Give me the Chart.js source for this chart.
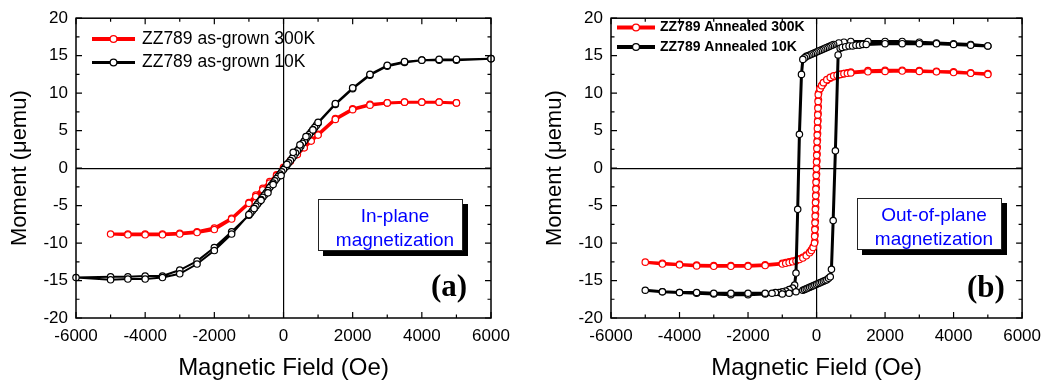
<!DOCTYPE html>
<html>
<head>
<meta charset="utf-8">
<script src="https://cdn.jsdelivr.net/npm/chart.js@4.4.0/dist/chart.umd.min.js"></script>
<style>
  body { margin: 0; background: #fff; }
  #wrap { position: relative; width: 1049px; height: 387px; overflow: hidden; }
  canvas { position: absolute; top: 0; }
  .note {
    position: absolute; box-sizing: border-box; width: 145px; height: 52px;
    border: 1px solid #222; background: #fff; box-shadow: 5px 5px 0 #000;
    color: #0000ff; font: 19px "Liberation Sans", Arial, sans-serif; line-height: 24px;
    text-align: center; padding: 4px 0 0 9px;
  }
  .tag { position: absolute; font: bold 31px "Liberation Serif", "Times New Roman", serif; line-height: 31px; }
</style>
</head>
<body>
<div id="wrap">
  <canvas id="chartA" width="520" height="387" style="left:0"></canvas>
  <canvas id="chartB" width="529" height="387" style="left:520px"></canvas>
  <div class="note" style="left:318px;top:199px">In-plane<br>magnetization</div>
  <div class="note" style="left:857px;top:198px">Out-of-plane<br>magnetization</div>
  <div class="tag" style="left:431px;top:270px">(a)</div>
  <div class="tag" style="left:967px;top:271px">(b)</div>
</div>
<script>
// tick labels shared by both panels
const xTicks = [-6000, -4000, -2000, 0, 2000, 4000, 6000];
const yTicks = [-20, -15, -10, -5, 0, 5, 10, 15, 20];

// (a) as-grown, 300K : down from +5000 then back up
const fieldA300 = [5000, 4500, 4000, 3500, 3000, 2500, 2000, 1500, 1000, 800, 600, 400, 200, 0, -200, -400, -600, -800, -1000,
  -1500, -2000, -2500, -3000, -3500, -4000, -4500, -5000,
  -4500, -4000, -3500, -3000, -2500, -2000, -1500, -1000, -800, -600, -400, -200, 0, 200, 400, 600, 800, 1000,
  1500, 2000, 2500, 3000, 3500, 4000, 4500, 5000];
const momentA300 = [8.7, 8.8, 8.8, 8.8, 8.7, 8.5, 7.9, 6.6, 4.5, 3.7, 2.8, 1.9, 1.0, 0.1, -0.9, -1.8, -2.7, -3.6, -4.6,
  -6.7, -8.0, -8.5, -8.7, -8.8, -8.8, -8.8, -8.8,
  -8.9, -8.9, -8.9, -8.8, -8.6, -8.2, -6.8, -4.7, -3.8, -2.9, -2.0, -1.0, -0.1, 0.9, 1.8, 2.7, 3.6, 4.4,
  6.5, 7.8, 8.4, 8.7, 8.8, 8.8, 8.8, 8.7];

// (a) as-grown, 10K
const fieldA10 = [6000, 5000, 4500, 4000, 3500, 3000, 2500, 2000, 1500,
  1000, 950, 900, 850, 800, 750, 700, 650, 600, 550, 500, 450, 400, 350, 300, 250, 200, 150, 100, 50, 0,
  -50, -100, -150, -200, -250, -300, -350, -400, -450, -500, -550, -600, -650, -700, -750, -800, -850, -900, -950, -1000,
  -1500, -2000, -2500, -3000, -3500, -4000, -4500, -5000, -6000,
  -5000, -4500, -4000, -3500, -3000, -2500, -2000, -1500, -1000, -850, -650, -450, -300, -70, 100, 280, 475, 650, 850, 1000,
  1500, 2000, 2500, 3000, 3500, 4000, 4500, 5000, 6000];
const momentA10 = [14.6, 14.4, 14.4, 14.4, 14.1, 13.6, 12.4, 10.6, 8.5,
  6.0, 5.7, 5.4, 5.1, 4.8, 4.5, 4.2, 3.9, 3.6, 3.3, 2.9, 2.6, 2.3, 2.0, 1.6, 1.3, 1.0, 0.7, 0.4, 0.1, -0.2,
  -0.5, -0.8, -1.1, -1.4, -1.7, -2.0, -2.3, -2.6, -3.0, -3.3, -3.6, -3.9, -4.2, -4.5, -4.8, -5.1, -5.4, -5.7, -6.0, -6.3,
  -8.5, -10.6, -12.4, -13.6, -14.4, -14.4, -14.5, -14.5, -14.6,
  -14.9, -14.8, -14.8, -14.6, -14.1, -12.8, -11.0, -8.8, -6.2, -5.4, -4.3, -3.3, -2.2, -1.0, 0.5, 2.1, 3.1, 4.2, 5.1, 6.1,
  8.6, 10.7, 12.5, 13.7, 14.2, 14.4, 14.5, 14.5, 14.6];

// (b) annealed, 300K
const fieldB300 = [5000, 4500, 4000, 3500, 3000, 2500, 2000, 1500, 1000, 900, 800, 700, 600, 500, 400, 300, 200, 150, 100,
  60, 55, 50, 45, 40, 35, 30, 25, 20, 15, 10, 5, 0, -5, -10, -15, -20, -25, -30, -35, -40, -45, -50,
  -100, -150, -200, -300, -400, -500, -600, -700, -800, -900, -1000,
  -1500, -2000, -2500, -3000, -3500, -4000, -4500, -5000,
  -4500, -4000, -3500, -3000, -2500, -2000, -1500, -1000, -900, -800, -700, -600, -500, -400, -300, -200, -150, -100,
  -60, -55, -50, -45, -40, -35, -30, -25, -20, -15, -10, -5, 0, 5, 10, 15, 20, 25, 30, 35, 40, 45, 50,
  100, 150, 200, 300, 400, 500, 600, 700, 800, 900, 1000,
  1500, 2000, 2500, 3000, 3500, 4000, 4500, 5000];
const momentB300 = [12.6, 12.7, 12.85, 12.9, 13.0, 13.05, 13.05, 13.0, 12.8, 12.7, 12.6, 12.5, 12.35, 12.2, 12.0, 11.7, 11.3, 11.0, 10.6,
  10.0, 9.1, 8.2, 7.3, 6.4, 5.5, 4.6, 3.7, 2.8, 1.9, 1.0, 0.1, -0.8, -1.7, -2.6, -3.5, -4.4, -5.3, -6.2, -7.1, -8.0, -8.9, -9.8,
  -10.5, -10.9, -11.2, -11.6, -11.9, -12.1, -12.3, -12.4, -12.5, -12.6, -12.7,
  -12.9, -13.0, -13.0, -13.0, -12.95, -12.85, -12.7, -12.55,
  -12.8, -12.9, -13.05, -13.1, -13.1, -13.1, -13.0, -12.8, -12.7, -12.6, -12.5, -12.4, -12.2, -12.0, -11.7, -11.3, -11.0, -10.6,
  -10.0, -9.1, -8.2, -7.3, -6.4, -5.5, -4.6, -3.7, -2.8, -1.9, -1.0, -0.1, 0.8, 1.7, 2.6, 3.5, 4.4, 5.3, 6.2, 7.1, 8.0, 8.9, 9.8,
  10.6, 11.0, 11.4, 11.8, 12.1, 12.3, 12.4, 12.5, 12.6, 12.65, 12.7,
  12.85, 12.9, 12.95, 12.9, 12.85, 12.75, 12.65, 12.5];

// (b) annealed, 10K
const fieldB10 = [5000, 4500, 4000, 3500, 3000, 2500, 2000, 1500, 1000, 800, 650,
  500, 450, 400, 350, 300, 250, 200, 150, 100, 50, 0, -50, -100, -150, -200, -250, -300, -350, -400,
  -440, -500, -550, -600, -640,
  -700, -800, -900, -1000, -1100, -1200, -1300,
  -1500, -2000, -2500, -3000, -3500, -4000, -4500, -5000,
  -4500, -4000, -3500, -3000, -2500, -2000, -1500, -1000, -800, -600,
  -400, -350, -300, -250, -200, -150, -100, -50, 0, 50, 100, 150, 200, 250, 300, 350, 400,
  435, 485, 550, 630, 690,
  750, 850, 950, 1050, 1150, 1250, 1350, 1450,
  2000, 2500, 3000, 3500, 4000, 4500, 5000];
const momentB10 = [16.3, 16.5, 16.6, 16.7, 16.8, 16.9, 16.9, 16.9, 16.9, 16.8, 16.7,
  16.5, 16.4, 16.3, 16.2, 16.1, 16.0, 15.9, 15.8, 15.7, 15.6, 15.5, 15.4, 15.3, 15.2, 15.1, 15.0, 14.9, 14.7, 14.5,
  12.5, 4.5, -5.5, -14.0, -15.6,
  -16.0, -16.2, -16.4, -16.5, -16.6, -16.6, -16.7,
  -16.8, -16.9, -16.9, -16.8, -16.7, -16.6, -16.5, -16.3,
  -16.5, -16.6, -16.6, -16.7, -16.7, -16.7, -16.7, -16.8, -16.7, -16.5,
  -16.3, -16.2, -16.1, -16.0, -15.9, -15.8, -15.7, -15.6, -15.5, -15.4, -15.3, -15.2, -15.1, -15.0, -14.9, -14.7, -14.5,
  -13.5, -7.0, 2.3, 15.1, 16.0,
  16.1, 16.2, 16.3, 16.3, 16.4, 16.4, 16.5, 16.5,
  16.6, 16.6, 16.6, 16.6, 16.5, 16.4, 16.3];

const labelsA = ['ZZ789 as-grown 300K', 'ZZ789 as-grown 10K'];
const labelsB = ['ZZ789 Annealed 300K', 'ZZ789 Annealed 10K'];

Chart.defaults.font.family = '"Liberation Sans", Arial, sans-serif';
Chart.defaults.color = '#000';

const toPoints = (xs, ys) => xs.map((x, i) => ({ x: x, y: ys[i] }));

// closed frame with inward major/minor ticks on all four sides
const frameTicks = {
  id: 'frameTicks',
  afterDatasetsDraw(chart) {
    const { ctx, chartArea: a, scales: { x, y } } = chart;
    const major = 6, minor = 3.5;
    ctx.save();
    ctx.strokeStyle = '#000';
    ctx.lineWidth = 1.2;
    ctx.beginPath();
    const xs = x.ticks.map(t => t.value);
    xs.forEach((v, i) => {
      const p = x.getPixelForValue(v);
      ctx.moveTo(p, a.bottom); ctx.lineTo(p, a.bottom - major);
      ctx.moveTo(p, a.top); ctx.lineTo(p, a.top + major);
      if (i < xs.length - 1) {
        const m = x.getPixelForValue((v + xs[i + 1]) / 2);
        ctx.moveTo(m, a.bottom); ctx.lineTo(m, a.bottom - minor);
        ctx.moveTo(m, a.top); ctx.lineTo(m, a.top + minor);
      }
    });
    const ys = y.ticks.map(t => t.value);
    ys.forEach((v, i) => {
      const p = y.getPixelForValue(v);
      ctx.moveTo(a.left, p); ctx.lineTo(a.left + major, p);
      ctx.moveTo(a.right, p); ctx.lineTo(a.right - major, p);
      if (i < ys.length - 1) {
        const m = y.getPixelForValue((v + ys[i + 1]) / 2);
        ctx.moveTo(a.left, m); ctx.lineTo(a.left + minor, m);
        ctx.moveTo(a.right, m); ctx.lineTo(a.right - minor, m);
      }
    });
    ctx.stroke();
    ctx.lineWidth = 1.5;
    ctx.strokeRect(a.left, a.top, a.right - a.left, a.bottom - a.top);
    ctx.restore();
  }
};

// legend drawn inside the plot, line + open circle like the original
const insideLegend = {
  id: 'insideLegend',
  afterDraw(chart, args, o) {
    const ctx = chart.ctx;
    ctx.save();
    ctx.font = o.font;
    ctx.textBaseline = 'middle';
    chart.data.datasets.forEach((ds, i) => {
      const yy = o.y + i * o.rowH;
      ctx.strokeStyle = ds.borderColor;
      ctx.lineWidth = ds.borderWidth + o.extra;
      ctx.beginPath();
      ctx.moveTo(o.x, yy);
      ctx.lineTo(o.x + o.lineLen, yy);
      ctx.stroke();
      ctx.beginPath();
      ctx.arc(o.x + o.lineLen / 2, yy, o.r, 0, Math.PI * 2);
      ctx.fillStyle = '#fff';
      ctx.fill();
      ctx.lineWidth = 1.2;
      ctx.stroke();
      ctx.fillStyle = '#000';
      ctx.fillText(ds.label, o.x + o.lineLen + o.gap, yy);
    });
    ctx.restore();
  }
};

function series(label, xs, ys, color, width, order) {
  return {
    label: label,
    data: toPoints(xs, ys),
    showLine: true,
    borderColor: color,
    borderWidth: width,
    pointRadius: 3.2,
    pointBorderWidth: 1.2,
    pointBorderColor: color,
    pointBackgroundColor: '#fff',
    tension: 0,
    clip: false,
    order: order
  };
}

function panelOptions(yWidth, padRight, yTitlePad, legend) {
  const zeroLine = c => (c.tick && c.tick.value === 0 ? '#000' : 'rgba(0,0,0,0)');
  return {
    responsive: false,
    animation: false,
    events: [],
    layout: { padding: { left: 0, right: padRight, top: 13, bottom: 0 } },
    plugins: {
      legend: { display: false },
      tooltip: { enabled: false },
      insideLegend: legend
    },
    scales: {
      x: {
        type: 'linear',
        min: -6000,
        max: 6000,
        afterBuildTicks: s => { s.ticks = xTicks.map(v => ({ value: v })); },
        afterFit: s => { s.height = 69; },
        ticks: { font: { size: 17 }, padding: 8, maxRotation: 0, callback: v => String(v) },
        grid: { color: zeroLine, lineWidth: 1.2, drawTicks: false },
        border: { display: false },
        title: { display: true, text: 'Magnetic Field (Oe)', font: { size: 24 }, padding: { top: 0, bottom: 4 } }
      },
      y: {
        type: 'linear',
        min: -20,
        max: 20,
        afterBuildTicks: s => { s.ticks = yTicks.map(v => ({ value: v })); },
        afterFit: s => { s.width = yWidth; },
        ticks: { font: { size: 17 }, padding: 8, callback: v => String(v) },
        grid: { color: zeroLine, lineWidth: 1.2, drawTicks: false },
        border: { display: false },
        title: { display: true, text: 'Moment (\u03bcemu)', font: { size: 22 }, padding: { top: yTitlePad, bottom: 0 } }
      }
    }
  };
}

new Chart(document.getElementById('chartA'), {
  type: 'scatter',
  data: {
    datasets: [
      series(labelsA[0], fieldA300, momentA300, '#ff0000', 3, 1),
      series(labelsA[1], fieldA10, momentA10, '#000000', 2, 0)
    ]
  },
  options: panelOptions(76, 29, 7, {
    x: 92, y: 39, rowH: 23.5, lineLen: 43, gap: 7, r: 3.4, extra: 0.8,
    font: '17.5px "Liberation Sans", Arial, sans-serif'
  }),
  plugins: [frameTicks, insideLegend]
});

new Chart(document.getElementById('chartB'), {
  type: 'scatter',
  data: {
    datasets: [
      series(labelsB[0], fieldB300, momentB300, '#ff0000', 3, 1),
      series(labelsB[1], fieldB10, momentB10, '#000000', 3, 0)
    ]
  },
  options: panelOptions(91, 23.5, 22, {
    x: 97, y: 27.5, rowH: 19.5, lineLen: 38, gap: 5, r: 3.4, extra: 0.8,
    font: 'bold 14px "Liberation Sans", Arial, sans-serif'
  }),
  plugins: [frameTicks, insideLegend]
});
</script>
</body>
</html>
